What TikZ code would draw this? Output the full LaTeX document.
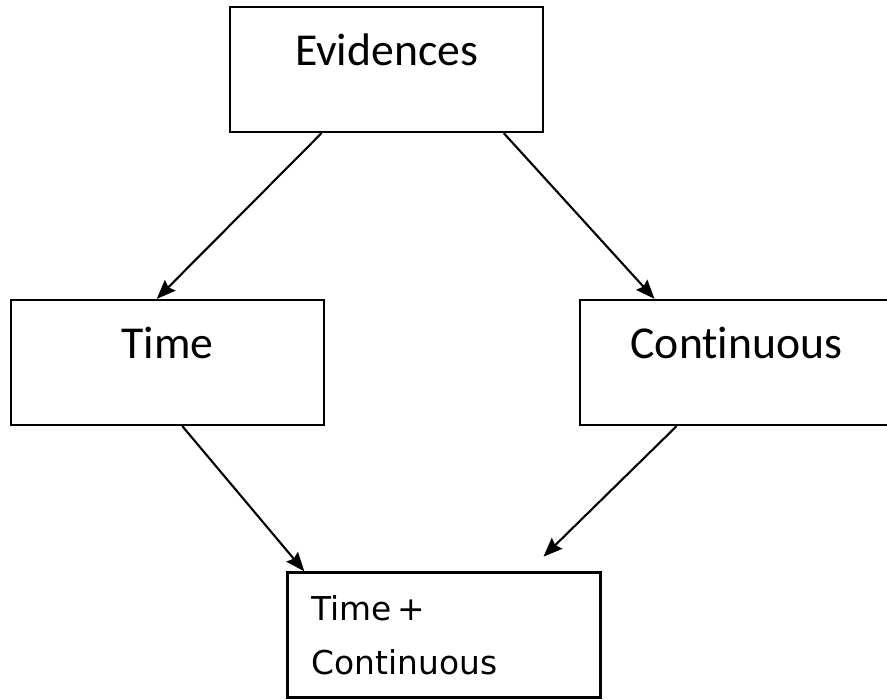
\documentclass[tikz,border=0pt]{standalone}
\usepackage{fontspec}
\setmainfont{Carlito}[Ligatures=NoCommon]
\newfontfamily\boxfont{DejaVu Sans}
\usetikzlibrary{arrows.meta, calc}

\tikzset{
  block/.style={draw=black, line width=1.3pt, minimum width=6.26cm, minimum height=2.5cm, inner sep=0pt},
  heading/.style={text height=1.16cm, text depth=1.34cm, font=\fontsize{26pt}{30pt}\selectfont},
  link/.style={line width=1.2pt, -{Stealth[length=0.38cm, width=0.3cm, inset=0.05cm]}}
}

\begin{document}
\begin{tikzpicture}[x=0.02cm, y=-0.02cm]
    \useasboundingbox (0,0) rectangle (887,700);
    \clip (0,0) rectangle (887,700);

    \node[block, heading] (ev)   at (386.5, 69.5) {Evidences};
    \node[block, heading] (time) at (167.5,362.5) {Time};
    \node[block, heading] (cont) at (736.5,362.5) {Continuous};
    \node[block, align=left, text width=5.3cm, inner xsep=0.48cm, font=\boxfont\fontsize{18.7pt}{30.7pt}\selectfont] (both) at (444,635) {Time\,+\\Continuous};

    \draw[link] ($(ev.south west)!0.294!(ev.south east)$) -- ($(time.north west)!0.466!(time.north east)$);
    \draw[link] ($(ev.south west)!0.872!(ev.south east)$) -- ($(cont.north west)!0.24!(cont.north east)$);
    \draw[link] ($(time.south west)!0.547!(time.south east)$) -- ($(both.north west)!0.057!(both.north east)$);
    \draw[link, shorten >=0.42cm] ($(cont.south west)!0.31!(cont.south east)$) -- ($(both.north west)!0.768!(both.north east)$);
\end{tikzpicture}
\end{document}
